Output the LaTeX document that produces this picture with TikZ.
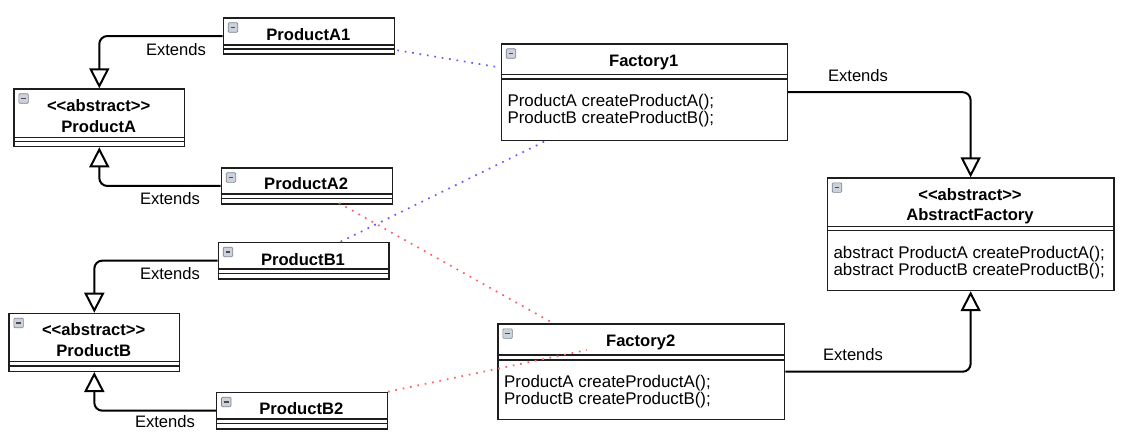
\documentclass[tikz,border=0pt]{standalone}
\usepackage{fontspec}
\newfontfamily\umlfont{Liberation Sans}
\usetikzlibrary{arrows.meta}
\definecolor{boxline}{RGB}{30,30,30}
\definecolor{dotblue}{RGB}{95,95,255}
\definecolor{dotred}{RGB}{255,95,95}
\definecolor{iconfill}{RGB}{205,210,218}
\definecolor{iconline}{RGB}{120,130,145}
\begin{document}
\begin{tikzpicture}[x=1pt,y=-1pt,
  box/.style={draw=boxline,line width=1.3pt,fill=white,rectangle,inner sep=0pt,anchor=north west},
  sep/.style={draw=boxline,line width=1.3pt},
  title/.style={font=\umlfont\fontsize{16.6}{20}\selectfont\bfseries,anchor=base,inner sep=0pt},
  meth/.style={font=\umlfont\fontsize{16.9}{17}\selectfont,anchor=base west,inner sep=0pt},
  lbl/.style={font=\umlfont\fontsize{16.6}{20}\selectfont,inner sep=0pt},
  ext/.style={draw=black,line width=2pt,rounded corners=8pt,-{Triangle[open,length=20pt,width=20pt,fill=white]}},
  dotb/.style={draw=dotblue,line width=1.7pt,dash pattern=on 1.7pt off 5.8pt},
  dotr/.style={draw=dotred,line width=1.7pt,dash pattern=on 1.7pt off 5.8pt},
  icon/.style={draw=iconline,fill=iconfill,line width=0.6pt,rounded corners=1pt}
]
\useasboundingbox (0,0) rectangle (1130,441);

% ---------- class boxes ----------
\node[box,minimum width=171.3pt,minimum height=36.2pt] (pa1) at (222.7,17.3) {};
\node[box,minimum width=170.7pt,minimum height=57.7pt] (pa)  at (13.3,88.3) {};
\node[box,minimum width=171pt,minimum height=36pt]   (pa2) at (220.7,167.3) {};
\node[box,minimum width=170.6pt,minimum height=36.6pt] (pb1) at (217.7,241.7) {};
\node[box,minimum width=170.7pt,minimum height=58pt]   (pb)  at (8.3,312.7) {};
\node[box,minimum width=170.7pt,minimum height=36.6pt] (pb2) at (216,391.7) {};
\node[box,minimum width=286pt,minimum height=96.5pt]   (f1)  at (500.7,43.3) {};
\node[box,minimum width=286.7pt,minimum height=95.5pt] (f2)  at (497.3,323.3) {};
\node[box,minimum width=286.6pt,minimum height=112.6pt] (af) at (826.7,177.3) {};

% header separators (double lines)
\foreach \n/\a/\b in {pa1/27.7/31.7, pa/49/53.4, pa2/26.7/31.2, pb1/27.3/31.6, pb/49/53.3, pb2/27.3/31.6, f1/31/35.7, f2/31.7/36.7, af/49.4/53.4}{
  \draw[sep] ([yshift=-\a pt]\n.north west) -- ([yshift=-\a pt]\n.north east);
  \draw[sep] ([yshift=-\b pt]\n.north west) -- ([yshift=-\b pt]\n.north east);
}

% collapse icons
\foreach \n in {pa1,pa,pa2,pb1,pb,pb2,f1,f2,af}{
  \draw[icon] ([shift={(5.5pt,-5.5pt)}]\n.north west) rectangle ([shift={(15pt,-15pt)}]\n.north west);
  \draw[draw=black!70,line width=1.2pt] ([shift={(7.8pt,-10.2pt)}]\n.north west) -- ([shift={(12.7pt,-10.2pt)}]\n.north west);
}

% ---------- titles ----------
\node[title] (pa1t) at (308.3,40.2) {ProductA1};
\node[title] (pas)  at (98.7,112) {<\kern0pt<abstract>\kern0pt>};
\node[title] (pat)  at (98.7,132.4) {ProductA};
\node[title] (pa2t) at (306.2,189.9) {ProductA2};
\node[title] (pb1t) at (303,265.2) {ProductB1};
\node[title] (pbs)  at (93.7,335.9) {<\kern0pt<abstract>\kern0pt>};
\node[title] (pbt)  at (93.7,356) {ProductB};
\node[title] (pb2t) at (301.3,414.2) {ProductB2};
\node[title] (f1t)  at (643.7,66.6) {Factory1};
\node[title] (f2t)  at (640.7,346.9) {Factory2};
\node[title] (afs)  at (970,200.9) {<\kern0pt<abstract>\kern0pt>};
\node[title] (aft)  at (970,220.9) {AbstractFactory};

% ---------- methods ----------
\node[meth] (f1m1) at (507.3,106.5) {ProductA createProductA();};
\node[meth] (f1m2) at (507.3,123.5) {ProductB createProductB();};
\node[meth] (f2m1) at (504,387.5) {ProductA createProductA();};
\node[meth] (f2m2) at (504,404.5) {ProductB createProductB();};
\node[meth] (afm1) at (833.3,258.3) {abstract ProductA createProductA();};
\node[meth] (afm2) at (833.3,275) {abstract ProductB createProductB();};

% ---------- inheritance connectors ----------
\draw[ext] (pa1.west) -| (pa.north);
\draw[ext] (pa2.west) -| (pa.south);
\draw[ext] (pb1.west) -| (pb.north);
\draw[ext] (pb2.west) -| (pb.south);
\draw[ext] (f1.east) -| (af.north);
\draw[ext] (f2.east) -| (af.south);

\node[lbl] (l1) at (176,50) {Extends};
\node[lbl] (l2) at (170,199) {Extends};
\node[lbl] (l3) at (170,274) {Extends};
\node[lbl] (l4) at (165,422) {Extends};
\node[lbl] (l5) at (858,76) {Extends};
\node[lbl] (l6) at (853,355) {Extends};

% ---------- dependency (dotted) connectors ----------
\draw[dotb] ([shift={(2pt,4.5pt)}]pa1.south east) -- ([shift={(-3.7pt,-23.7pt)}]f1.north west);
\draw[dotb] ([xshift=37pt]pb1.north) -- ([xshift=-99pt]f1.south);
\draw[dotr] ([shift={(32pt,1.6pt)}]pa2.south) -- ([xshift=56pt]f2.north west);
\draw[dotr] (pb2.north east) -- ([shift={(89.5pt,-26.7pt)}]f2.north west);

\end{tikzpicture}
\end{document}
